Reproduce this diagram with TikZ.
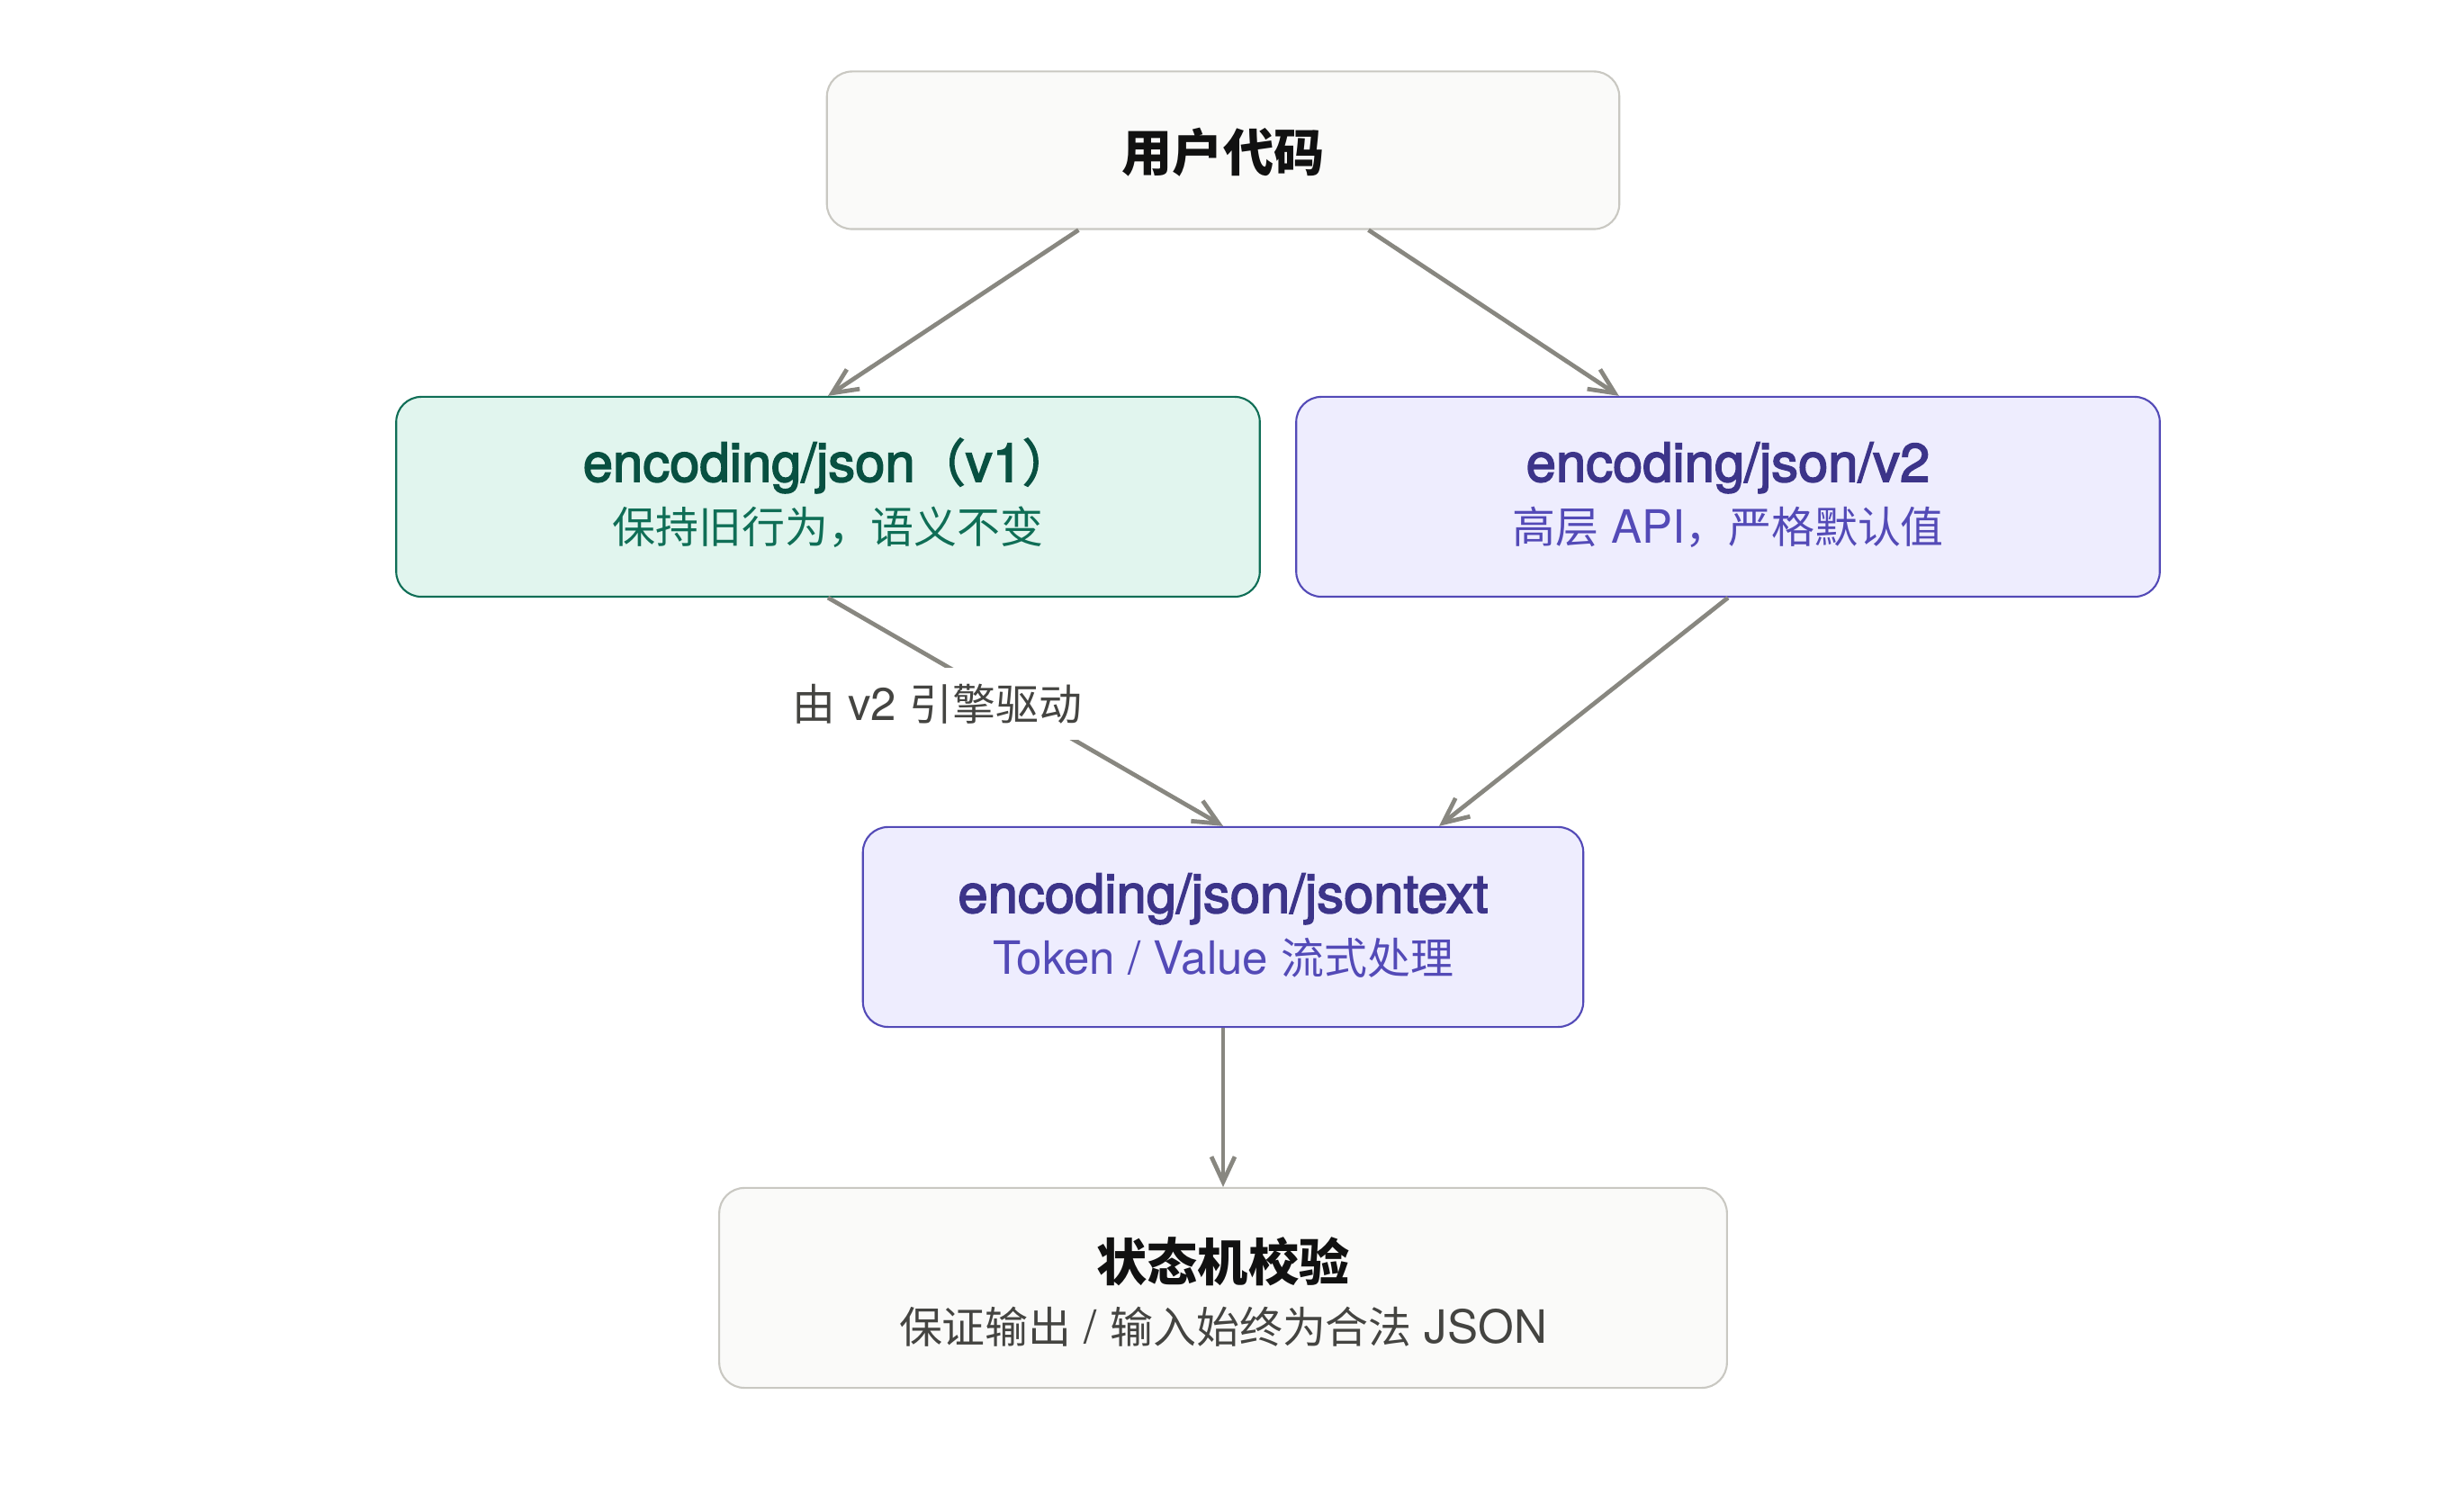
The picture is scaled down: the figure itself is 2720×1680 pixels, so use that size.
\documentclass[tikz,border=0pt]{standalone}
\usepackage{fontspec}
\setmainfont{TeX Gyre Heros}
\newfontfamily\cjk{Noto Sans CJK SC}[Scale=0.94]
\newfontfamily\medfont{TeX Gyre Heros}[FakeBold=2.6]
\newfontfamily\cjkmed{Noto Sans CJK SC}[Scale=0.94,FakeBold=2.6]
\usetikzlibrary{arrows.meta,calc}
\definecolor{grayF}{HTML}{FAFAF9}
\definecolor{grayB}{HTML}{C9C8C2}
\definecolor{grayT}{HTML}{111111}
\definecolor{grayS}{HTML}{444441}
\definecolor{greenF}{HTML}{E1F5EE}
\definecolor{greenB}{HTML}{0F6E56}
\definecolor{greenT}{HTML}{085041}
\definecolor{purpF}{HTML}{EEEDFE}
\definecolor{purpB}{HTML}{534AB7}
\definecolor{purpT}{HTML}{3C3489}
\definecolor{arrowC}{HTML}{888780}
\begin{document}
\begin{tikzpicture}[x=0.01cm,y=-0.01cm,
  box/.style={draw, rounded corners=0.28cm, line width=0.6pt, inner sep=0pt},
  graybox/.style={box, draw=grayB, fill=grayF},
  greenbox/.style={box, draw=greenB, fill=greenF},
  purpbox/.style={box, draw=purpB, fill=purpF},
  txt/.style={anchor=base, inner sep=0pt},
  ttl/.style={txt, font=\fontsize{17pt}{20pt}\selectfont\medfont},
  cttl/.style={txt, font=\fontsize{17pt}{20pt}\selectfont\cjk\bfseries},
  sub/.style={txt, font=\fontsize{14.5pt}{17pt}\selectfont},
  arr/.style={draw=arrowC, line width=1.35pt, -{Straight Barb[length=0.28cm, width=0.26cm, line width=1.35pt]}},
  lbl/.style={fill=white, inner xsep=1pt, inner ysep=5pt, text=grayS, font=\fontsize{14.5pt}{17pt}\selectfont}
]
\fill[white] (0,0) rectangle (2720,1680);
\useasboundingbox (0,0) rectangle (2720,1680);

% boxes
\node[graybox, minimum width=8.80cm, minimum height=1.75cm] (user) at (1359,167) {};
\node[greenbox, minimum width=9.59cm, minimum height=2.22cm] (v1) at (920,552) {};
\node[purpbox, minimum width=9.59cm, minimum height=2.22cm] (v2) at (1920,552) {};
\node[purpbox, minimum width=8.00cm, minimum height=2.22cm] (jt) at (1359,1030) {};
\node[graybox, minimum width=11.19cm, minimum height=2.22cm] (sm) at (1359,1431) {};

% texts
\node[cttl, text=grayT] (userT) at (1359,191) {用户代码};
\node[ttl, text=greenT] (v1T) at (920,535) {encoding/json{\cjkmed （}v1{\cjkmed ）}};
\node[sub, text=greenB] (v1S) at (920,604) {\cjk 保持旧行为，语义不变};
\node[ttl, text=purpT] (v2T) at (1920,535) {encoding/json/v2};
\node[sub, text=purpB] (v2S) at (1920,604) {{\cjk 高层} API{\cjk ，严格默认值}};
\node[ttl, text=purpT] (jtT) at (1359,1014) {encoding/json/jsontext};
\node[sub, text=purpB] (jtS) at (1359,1083) {Token / Value {\cjk 流式处理}};
\node[cttl, text=grayT] (smT) at (1359,1424) {状态机校验};
\node[sub, text=grayS] (smS) at (1359,1493) {{\cjk 保证输出} / {\cjk 输入始终为合法} JSON};

% connectors
\draw[arr] ($(user.south west)!0.318!(user.south east)$) -- (v1.north);
\draw[arr] ($(user.south west)!0.683!(user.south east)$) -- ($(v2.north west)!0.374!(v2.north east)$);
\draw[arr] (v1.south) -- (jt.north);
\draw[arr] (v2.south) -- ($(jt.north west)!0.799!(jt.north east)$);
\draw[arr] (jt.south) -- (sm.north);

\node[lbl] (lab) at (1041,782) {{\cjk 由} v2 {\cjk 引擎驱动}};
\end{tikzpicture}
\end{document}
